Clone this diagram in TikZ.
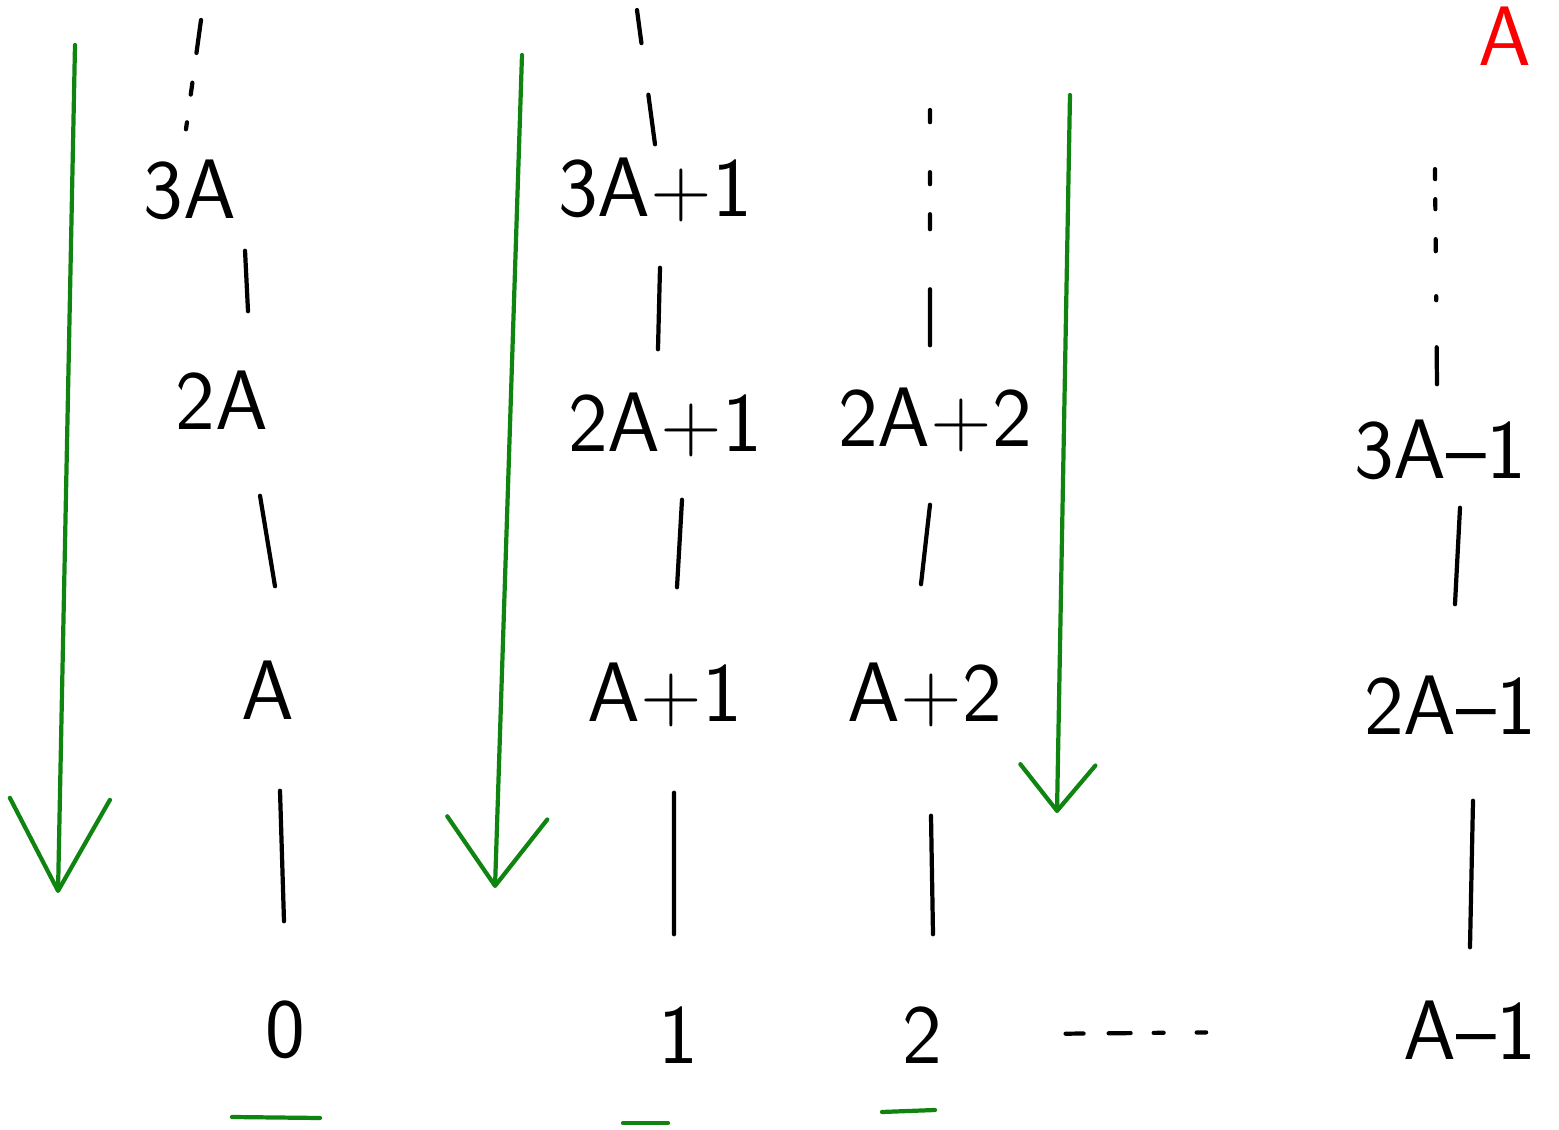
\documentclass[tikz,border=0pt]{standalone}
\usetikzlibrary{arrows.meta}
\definecolor{flowgreen}{RGB}{16,132,16}
\definecolor{markred}{RGB}{250,0,0}
\begin{document}
\begin{tikzpicture}[x=0.01cm, y=-0.01cm,
  lbl/.style={font=\sffamily\fontsize{24}{26}\selectfont, inner sep=0pt, minimum height=0.6cm},
  link/.style={line width=1.2pt, line cap=round},
  flow/.style={draw=flowgreen, line width=1.2pt, line cap=round, line join=round},
  underbar/.style={draw=flowgreen, line width=1.2pt, line cap=round}]
\useasboundingbox (0,0) rectangle (1559,1130);

% residue classes, one column per remainder
\node[lbl] (n3A)   at (190,190)  {3A};
\node[lbl] (n2A)   at (222,400)  {2A};
\node[lbl] (nA)    at (268,690)  {A};
\node[lbl] (n0)    at (285,1030) {0};

\node[lbl] (n3A1)  at (655,190)  {3A+1};
\node[lbl] (n2A1)  at (665,425)  {2A+1};
\node[lbl] (nA1)   at (665,695)  {A+1};
\node[lbl] (n1)    at (678,1035) {1};

\node[lbl] (n2A2)  at (935,420)  {2A+2};
\node[lbl] (nA2)   at (925,695)  {A+2};
\node[lbl] (n2)    at (922,1035) {2};

\node[lbl] (n3Am1) at (1440,450) {3A--1};
\node[lbl] (n2Am1) at (1450,705) {2A--1};
\node[lbl] (nAm1)  at (1470,1030) {A--1};

\node[lbl, text=markred] (nMod) at (1505,36) {A};

% links inside each column
\draw[link] ([xshift=0.55cm,yshift=-0.30cm]n3A.south) -- ([xshift=0.26cm,yshift=0.58cm]n2A.north);
\draw[link] ([xshift=0.38cm,yshift=-0.65cm]n2A.south) -- ([xshift=0.07cm,yshift=0.73cm]nA.north);
\draw[link] ([xshift=0.12cm,yshift=-0.70cm]nA.south) -- ([xshift=-0.01cm,yshift=0.78cm]n0.north);

\draw[link] ([xshift=0.05cm,yshift=-0.45cm]n3A1.south) -- ([xshift=-0.07cm,yshift=0.43cm]n2A1.north);
\draw[link] ([xshift=0.17cm,yshift=-0.42cm]n2A1.south) -- ([xshift=0.12cm,yshift=0.75cm]nA1.north);
\draw[link] ([xshift=0.09cm,yshift=-0.65cm]nA1.south) -- ([xshift=-0.04cm,yshift=0.70cm]n1.north);

\draw[link] ([xshift=-0.05cm,yshift=-0.52cm]n2A2.south) -- ([xshift=-0.04cm,yshift=0.78cm]nA2.north);
\draw[link] ([xshift=0.06cm,yshift=-0.88cm]nA2.south) -- ([xshift=0.11cm,yshift=0.70cm]n2.north);

\draw[link] ([xshift=0.20cm,yshift=-0.27cm]n3Am1.south) -- ([xshift=0.05cm,yshift=0.70cm]n2Am1.north);
\draw[link] ([xshift=0.23cm,yshift=-0.65cm]n2Am1.south) -- ([xshift=0cm,yshift=0.52cm]nAm1.north);

% columns continue upwards
\coordinate (t0) at (201,20);
\coordinate (t1) at (637,10);
\coordinate (t2) at (930,110);
\coordinate (t3) at (1435,168);
\draw[link, dash pattern=on 0.07cm off 0.28cm on 0.12cm off 0.3cm on 0.4cm]
  ([xshift=-0.04cm,yshift=0.30cm]n3A.north) -- (t0);
\draw[link, dash pattern=on 0.5cm off 0.52cm on 0.4cm]
  ([yshift=0.13cm]n3A1.north) -- (t1);
\draw[link, dash pattern=on 0.56cm off 0.6cm on 0.15cm off 0.3cm on 0.12cm off 0.5cm on 0.15cm]
  ([xshift=-0.05cm,yshift=0.42cm]n2A2.north) -- (t2);
\draw[link, dash pattern=on 0.37cm off 0.47cm on 0.04cm off 0.45cm on 0.12cm off 0.3cm on 0.1cm off 0.2cm on 0.1cm]
  ([xshift=-0.03cm,yshift=0.35cm]n3Am1.north) -- (t3);

% further columns between 2 and A-1
\draw[link, dash pattern=on 0.18cm off 0.25cm on 0.22cm off 0.23cm on 0.1cm off 0.33cm on 0.12cm,
  shorten <=1.23cm, shorten >=1.97cm] (n2) -- (nAm1);

% direction of reading in each column
\coordinate (a0s) at (75,45);   \coordinate (a0e) at (58,893);
\coordinate (a1s) at (522,55);  \coordinate (a1e) at (495,888);
\coordinate (a2s) at (1070,95); \coordinate (a2e) at (1057,813);
\draw[flow, -{Straight Barb[length=0.92cm, width=1.0cm, round]}] (a0s) -- (a0e);
\draw[flow, -{Straight Barb[length=0.68cm, width=1.0cm, round]}] (a1s) -- (a1e);
\draw[flow, -{Straight Barb[length=0.46cm, width=0.75cm, round]}] (a2s) -- (a2e);

% underlined first elements
\coordinate (u0a) at (232,1117); \coordinate (u0b) at (320,1118);
\coordinate (u1a) at (623,1123); \coordinate (u1b) at (668,1123);
\coordinate (u2a) at (882,1112); \coordinate (u2b) at (935,1110);
\draw[underbar] (u0a) -- (u0b);
\draw[underbar] (u1a) -- (u1b);
\draw[underbar] (u2a) -- (u2b);
\end{tikzpicture}
\end{document}
